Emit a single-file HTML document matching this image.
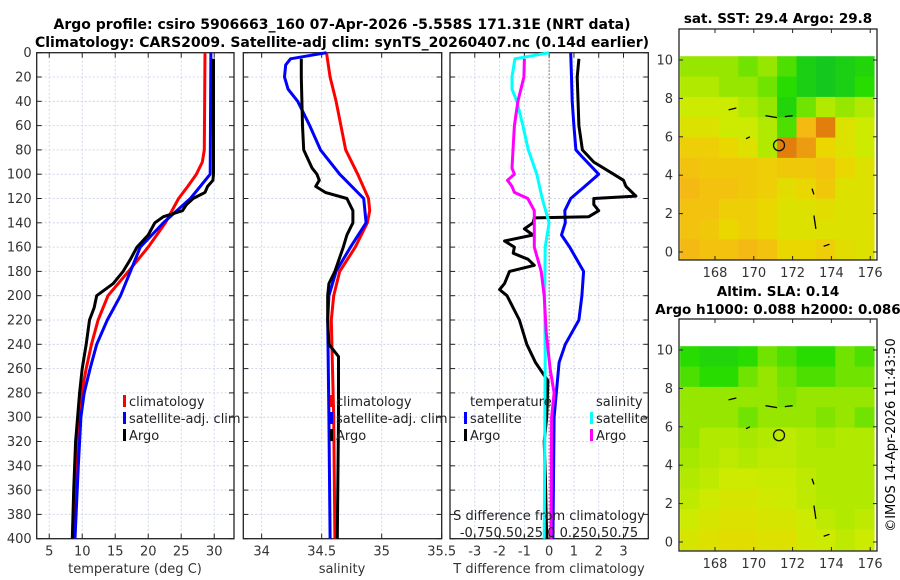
<!DOCTYPE html>
<html><head><meta charset="utf-8"><style>
html,body{margin:0;padding:0;background:#fff;}
svg{display:block;font-family:"DejaVu Sans","Liberation Sans",sans-serif;}
</style></head><body>
<svg id="fig" width="900" height="580" viewBox="0 0 900 580" xmlns="http://www.w3.org/2000/svg">
<text x="342" y="29" font-size="14" font-weight="bold" text-anchor="middle">Argo profile: csiro 5906663_160 07-Apr-2026 -5.558S 171.31E (NRT data)</text>
<text x="342" y="47" font-size="14" font-weight="bold" text-anchor="middle">Climatology: CARS2009. Satellite-adj clim: synTS_20260407.nc (0.14d earlier)</text>
<text x="778" y="23" font-size="13.5" font-weight="bold" text-anchor="middle">sat. SST: 29.4 Argo: 29.8</text>
<text x="778" y="296" font-size="13.5" font-weight="bold" text-anchor="middle">Altim. SLA: 0.14</text>
<text x="778" y="314" font-size="13.5" font-weight="bold" text-anchor="middle">Argo h1000: 0.088 h2000: 0.086</text>
<text transform="translate(895,435) rotate(-90)" font-size="13" text-anchor="middle">©IMOS 14-Apr-2026 11:43:50</text>
<g id="layer"></g>
</svg>
<script>
// ---- Panel 1: temperature (deg C) ----
const tClimDepth=[0,80,90,100,110,120,140,160,180,200,220,240,260,280,300,340,400];
const tClimVal=[28.6,28.5,28.2,27.3,26.0,24.6,22.6,20.0,17.0,13.9,12.4,11.4,10.6,9.9,9.4,9.0,8.6];
const tSatDepth=[0,100,120,140,160,180,200,220,240,260,280,300,340,400];
const tSatVal=[29.5,29.4,26.4,22.3,18.8,17.3,15.8,13.8,12.2,11.2,10.3,9.8,9.4,8.9];
const tArgoDepth=[5,100,105,110,115,120,125,130,135,140,150,160,170,180,190,200,210,220,240,260,280,300,320,360,400];
const tArgoVal=[29.9,29.9,29.8,29.0,28.6,26.8,25.8,25.2,22.3,21.0,20.0,18.3,17.3,16.2,14.7,12.2,11.8,11.1,10.6,10.0,9.6,9.3,9.0,8.7,8.5];
// ---- Panel 2: salinity ----
const sClimDepth=[0,20,40,60,80,100,120,130,140,160,180,200,220,260,300,400];
const sClimVal=[34.54,34.57,34.62,34.66,34.70,34.80,34.89,34.90,34.88,34.78,34.65,34.60,34.58,34.59,34.60,34.61];
const sSatDepth=[0,5,10,20,30,40,60,80,100,120,140,160,180,200,220,300,400];
const sSatVal=[34.54,34.24,34.20,34.19,34.22,34.30,34.40,34.49,34.65,34.85,34.87,34.74,34.62,34.56,34.55,34.56,34.57];
const sArgoDepth=[5,20,60,80,95,100,105,110,115,120,130,140,150,160,180,190,200,220,240,250,300,400];
const sArgoVal=[34.33,34.33,34.34,34.35,34.42,34.46,34.48,34.45,34.53,34.71,34.76,34.76,34.71,34.68,34.61,34.56,34.55,34.55,34.56,34.64,34.64,34.63];
// ---- Panel 3: differences from climatology ----
const dTSatDepth=[0,20,40,60,80,85,100,110,120,130,140,150,160,180,200,220,240,255,300,400];
const dTSatVal=[0.87,0.9,0.93,1.0,1.08,1.3,2.0,1.44,0.87,0.63,0.65,0.5,0.83,1.39,1.32,1.2,0.65,0.4,0.2,0.15];
const dTArgoDepth=[5,20,60,80,90,100,105,110,118,120,125,130,135,136,140,145,150,155,160,165,170,175,180,190,195,200,220,240,255,270,300,320,350,400];
const dTArgoVal=[1.2,1.13,1.2,1.34,1.8,2.6,3.0,3.1,3.5,1.8,1.8,2.0,1.6,-0.6,-0.65,-1.0,-0.65,-1.8,-1.4,-1.45,-0.85,-0.6,-1.6,-1.8,-2.0,-1.7,-1.2,-0.9,-0.55,-0.05,-0.1,-0.2,-0.15,-0.1];
const dSSatDepth=[0,5,20,30,40,60,80,100,120,140,160,200,250,400];
const dSSatVal=[0,-0.345,-0.375,-0.375,-0.325,-0.265,-0.21,-0.125,-0.07,0,-0.04,-0.045,-0.04,-0.05];
const dSArgoDepth=[5,20,40,60,80,95,100,105,110,115,120,130,140,160,180,200,230,260,280,300,400];
const dSArgoVal=[-0.25,-0.255,-0.315,-0.35,-0.365,-0.375,-0.35,-0.42,-0.375,-0.35,-0.215,-0.15,-0.15,-0.15,-0.08,-0.05,-0.03,0.01,0.05,0.025,0.02];
// ---- tick labels ----
const depthTicks=[0,20,40,60,80,100,120,140,160,180,200,220,240,260,280,300,320,340,360,380,400];
const tTicks=[5,10,15,20,25,30];
const sTicks=[34,34.5,35,35.5];
const dTTicks=[-3,-2,-1,0,1,2,3];
const dTTickLabels=["-3","-2","-1","0","1","2","3"];
// ---- maps (1-degree cells, rows north to south, lon 166.2 .. 176.2) ----
const mapLonStart=[166.2,167.2,168.2,169.2,170.2,171.2,172.2,173.2,174.2,175.2];
const mapLatTop=[10.2,9.14,8.08,7.02,5.96,4.9,3.84,2.78,1.72,0.66];
const sstGrid=[
[0.45,0.45,0.45,0.4,0.45,0.35,0.2,0.15,0.2,0.25],
[0.5,0.5,0.45,0.45,0.4,0.3,0.2,0.15,0.2,0.3],
[0.55,0.55,0.55,0.5,0.45,0.25,0.4,0.5,0.45,0.5],
[0.6,0.6,0.55,0.55,0.5,0.35,0.75,0.85,0.6,0.55],
[0.68,0.68,0.65,0.6,0.5,0.85,0.8,0.65,0.6,0.55],
[0.72,0.7,0.7,0.7,0.68,0.7,0.7,0.72,0.65,0.6],
[0.75,0.72,0.72,0.7,0.68,0.62,0.65,0.7,0.6,0.6],
[0.72,0.72,0.68,0.68,0.65,0.6,0.6,0.62,0.6,0.6],
[0.72,0.7,0.65,0.68,0.65,0.6,0.6,0.6,0.6,0.6],
[0.75,0.72,0.72,0.75,0.72,0.65,0.65,0.68,0.62,0.6]];
const slaGrid=[
[0.3,0.25,0.25,0.3,0.4,0.35,0.3,0.3,0.4,0.35],
[0.35,0.3,0.3,0.4,0.45,0.4,0.35,0.35,0.4,0.4],
[0.45,0.45,0.45,0.45,0.45,0.42,0.45,0.45,0.45,0.45],
[0.45,0.45,0.45,0.4,0.45,0.45,0.45,0.42,0.45,0.4],
[0.45,0.5,0.5,0.48,0.5,0.52,0.5,0.48,0.5,0.5],
[0.48,0.5,0.52,0.5,0.52,0.52,0.5,0.5,0.5,0.5],
[0.5,0.52,0.55,0.55,0.54,0.54,0.52,0.5,0.5,0.5],
[0.52,0.55,0.58,0.58,0.56,0.55,0.52,0.5,0.5,0.5],
[0.55,0.58,0.6,0.6,0.58,0.58,0.55,0.52,0.5,0.52],
[0.58,0.6,0.62,0.62,0.6,0.6,0.56,0.55,0.52,0.55]];
const lonTicks=[168,170,172,174,176];
const latTicks=[0,2,4,6,8,10];
const argoLon=171.3, argoLat=5.56;

const NS="http://www.w3.org/2000/svg";
const layer=document.getElementById('layer');
function mk(tag,attrs,parent){const e=document.createElementNS(NS,tag);for(const k in attrs)e.setAttribute(k,attrs[k]);(parent||layer).appendChild(e);return e;}

const Y0=52.7,Y1=538.7;
const yD=d=>Y0+(d/400)*(Y1-Y0);

function panel(name,px0,px1,xmin,xmax,ticks,labels,showY){
  const g=mk('g',{});
  
  
  const xs=v=>px0+(v-xmin)/(xmax-xmin)*(px1-px0);
  ticks.forEach(t=>{const x=xs(t);if(x>px0+1&&x<px1-1){const l=mk('line',{x1:x,x2:x,y1:Y0,y2:Y1,stroke:'#c4cce6','stroke-dasharray':'2,2','stroke-width':0.8},g);}});
  depthTicks.forEach(d=>{const y=yD(d);const l=mk('line',{x1:px0,x2:px1,y1:y,y2:y,stroke:'#c4cce6','stroke-dasharray':'2,2','stroke-width':0.8},g);
    mk('line',{x1:px0,x2:px0+5,y1:y,y2:y,stroke:'#222','stroke-width':1},g);mk('line',{x1:px1-5,x2:px1,y1:y,y2:y,stroke:'#222','stroke-width':1},g);
    if(showY){const t=mk('text',{x:px0-5,y:y+4.5,'font-size':13,'text-anchor':'end',fill:'#333'},g);t.textContent=d;}
  });
  ticks.forEach((t,i)=>{const x=xs(t);mk('line',{x1:x,x2:x,y1:Y1,y2:Y1-5,stroke:'#222'},g);mk('line',{x1:x,x2:x,y1:Y0,y2:Y0+5,stroke:'#222'},g);
    const tx=mk('text',{x:x,y:Y1+17,'font-size':13,'text-anchor':'middle',fill:'#333'},g);tx.textContent=labels[i];});
  const r=mk('rect',{x:px0,y:Y0,width:px1-px0,height:Y1-Y0,fill:'none',stroke:'#222','stroke-width':1.3},g);
  
  return {g,xs};
}
function line(p,depths,vals,color,name,scale){
  const pts=depths.map((d,i)=>p.xs(vals[i]*(scale||1)).toFixed(1)+','+yD(d).toFixed(1)).join(' ');
  const pl=mk('polyline',{points:pts,fill:'none',stroke:color,'stroke-width':3,'stroke-linejoin':'round'},p.g);
  
  
}
function txt(g,x,y,s,name,opts){const t=mk('text',Object.assign({x:x,y:y,'font-size':13,fill:'#222'},opts||{}),g);t.textContent=s;return t;}
function legItem(g,x,y,color,label,name){const r=mk('rect',{x:x,y:y-11,width:3,height:12,fill:color},g);txt(g,x+6,y,label,name);}

const P1=panel('temperature-panel',36.7,234,3.1,33,tTicks,tTicks.map(String),true);
line(P1,tClimDepth,tClimVal,'#ff0000','climatology-temperature-line');
line(P1,tSatDepth,tSatVal,'#0000ff','satellite-temperature-line');
line(P1,tArgoDepth,tArgoVal,'#000000','argo-temperature-line');
txt(P1.g,135,573,'temperature (deg C)','x-axis-title-temperature',{'text-anchor':'middle',fill:'#333'});
legItem(P1.g,123,406,'#ff0000','climatology','legend-climatology');
legItem(P1.g,123,423,'#0000ff','satellite-adj. clim','legend-satellite');
legItem(P1.g,123,440,'#000000','Argo','legend-argo');

const P2=panel('salinity-panel',243.3,441.7,33.847,35.5,sTicks,['34','34.5','35','35.5'],false);
line(P2,sClimDepth,sClimVal,'#ff0000','climatology-salinity-line');
line(P2,sSatDepth,sSatVal,'#0000ff','satellite-salinity-line');
line(P2,sArgoDepth,sArgoVal,'#000000','argo-salinity-line');
txt(P2.g,342,573,'salinity','x-axis-title-salinity',{'text-anchor':'middle',fill:'#333'});
legItem(P2.g,330,406,'#ff0000','climatology','legend-climatology-s');
legItem(P2.g,330,423,'#0000ff','satellite-adj. clim','legend-satellite-s');
legItem(P2.g,330,440,'#000000','Argo','legend-argo-s');

const P3=panel('difference-panel',450,648.3,-4,4,dTTicks,dTTickLabels,false);
const z=mk('line',{x1:P3.xs(0),x2:P3.xs(0),y1:Y0,y2:Y1,stroke:'#806040','stroke-dasharray':'1.5,2','stroke-width':1},P3.g);

line(P3,dTSatDepth,dTSatVal,'#0000ff','temperature-diff-satellite-line');
line(P3,dTArgoDepth,dTArgoVal,'#000000','temperature-diff-argo-line');
line(P3,dSSatDepth,dSSatVal,'#00ffff','salinity-diff-satellite-line',4);
line(P3,dSArgoDepth,dSArgoVal,'#ff00ff','salinity-diff-argo-line',4);
txt(P3.g,549,573,'T difference from climatology','x-axis-title-t-diff',{'text-anchor':'middle',fill:'#333'});
txt(P3.g,549,520,'S difference from climatology','s-axis-title',{'text-anchor':'middle'});
txt(P3.g,549,537,'-0.750.50.25 0  0.250.50.75','s-axis-tick-labels',{'text-anchor':'middle','xml:space':'preserve'});
txt(P3.g,470,406,'temperature','legend-title-temperature');
txt(P3.g,596,406,'salinity','legend-title-salinity');
legItem(P3.g,464,423,'#0000ff','satellite','legend-t-satellite');
legItem(P3.g,464,440,'#000000','Argo','legend-t-argo');
legItem(P3.g,590,423,'#00ffff','satellite','legend-s-satellite');
legItem(P3.g,590,440,'#ff00ff','Argo','legend-s-argo');

const cstops=[[0,[0,180,60]],[0.3,[40,220,0]],[0.45,[150,230,0]],[0.55,[205,235,0]],[0.65,[235,215,0]],[0.75,[245,185,20]],[0.88,[220,110,10]],[1,[190,0,0]]];
function cmap(v){for(let i=1;i<cstops.length;i++){if(v<=cstops[i][0]){const a=cstops[i-1],b=cstops[i];const f=(v-a[0])/(b[0]-a[0]);const c=a[1].map((q,k)=>Math.round(q+(b[1][k]-q)*f));return 'rgb('+c.join(',')+')';}}return 'rgb(190,0,0)';}

function map(name,bx0,by0,bx1,by1,lat10y,lat0y,grid){
  const g=mk('g',{});
  
  
  const lx=lon=>715+(lon-168)*19.4;
  const ly=lat=>lat0y+(lat10y-lat0y)*lat/10;
  const cp='clip-'+name;
  const cl=mk('clipPath',{id:cp},g);mk('rect',{x:bx0,y:by0,width:bx1-bx0,height:by1-by0},cl);
  const cg=mk('g',{'clip-path':'url(#'+cp+')'},g);
  grid.forEach((row,ri)=>row.forEach((v,ci)=>{
    const x=lx(mapLonStart[ci]),y=ly(mapLatTop[ri]);
    const r=mk('rect',{x:x.toFixed(1),y:y.toFixed(1),width:19.9,height:(ly(mapLatTop[ri]-1.06)-y+0.6).toFixed(1),fill:cmap(v)},cg);
    
    
  }));
  const c=mk('circle',{cx:lx(argoLon),cy:ly(argoLat),r:5.5,fill:'none',stroke:'#111','stroke-width':1.3},g);
  
  [[170.6,7.1,171.2,7.0],[171.6,7.05,172,7.1],[168.7,7.4,169.1,7.5],[173,3.3,173.1,3.0],[173.1,1.9,173.2,1.2],[173.6,0.3,173.9,0.4],[169.6,5.9,169.8,6.0]].forEach(s=>{
    const l=mk('line',{x1:lx(s[0]),y1:ly(s[1]),x2:lx(s[2]),y2:ly(s[3]),stroke:'#000','stroke-width':1.3},g);
    });
  const fr=mk('rect',{x:bx0,y:by0,width:bx1-bx0,height:by1-by0,fill:'none',stroke:'#222','stroke-width':1.3},g);
  
  lonTicks.forEach(t=>{const x=lx(t);mk('line',{x1:x,x2:x,y1:by1,y2:by1-4,stroke:'#222'},g);mk('line',{x1:x,x2:x,y1:by0,y2:by0+4,stroke:'#222'},g);
    txt(g,x,by1+17,String(t),'lon-tick-label',{'text-anchor':'middle',fill:'#333'});});
  latTicks.forEach(t=>{const y=ly(t);mk('line',{x1:bx0,x2:bx0+4,y1:y,y2:y,stroke:'#222'},g);mk('line',{x1:bx1-4,x2:bx1,y1:y,y2:y,stroke:'#222'},g);
    txt(g,bx0-6,y+4.5,String(t),'lat-tick-label',{'text-anchor':'end',fill:'#333'});});
}
map('sst-map',679,29,877,260,60,252,sstGrid);
map('sla-map',679,319,877,551,350,542,slaGrid);
</script>
</body></html>
